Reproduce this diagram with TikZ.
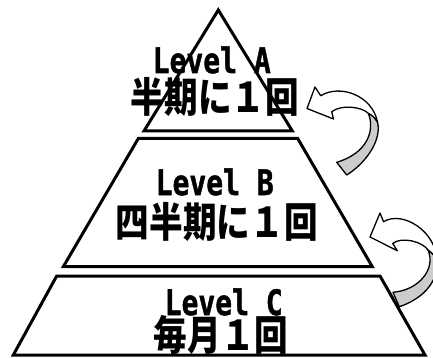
\documentclass[tikz,border=0pt]{standalone}
\usepackage{fontspec}
\usepackage{graphicx}
\newfontfamily\latfont{DejaVu Sans Mono}[BoldFeatures={FakeBold=1.5}]
\newfontfamily\jpfont{Noto Sans CJK JP}
\definecolor{arrgray}{RGB}{204,204,204}
\newcommand\latt[1]{\scalebox{0.8}[1]{#1}}
\newcommand\jpt[1]{\scalebox{0.82}[1]{#1}}
\tikzset{
  pyr/.style={line width=3pt, line join=miter},
  arr/.style={line width=1.3pt, line join=round},
  lat/.style={font=\latfont\bfseries\fontsize{35}{35}\selectfont, anchor=base west, inner sep=0pt},
  jp/.style={font=\jpfont\bfseries\fontsize{41}{41}\selectfont, anchor=base west, inner sep=0pt}
}
\begin{document}
\begin{tikzpicture}[x=1pt,y=-1pt]
\useasboundingbox (0,0) rectangle (433,358);
% pyramid
\draw[pyr] (218.3,10) -- (292.3,131) -- (144,131) -- cycle;
\draw[pyr] (138.3,138.5) -- (297.7,138.5) -- (372.3,266.7) -- (63.3,266.7) -- cycle;
\draw[pyr] (56.7,276) -- (380,276) -- (425,355) -- (13.3,355) -- cycle;
% arrow 1
\draw[arr, fill=arrgray] (368.3,113.3) .. controls (375,130) and (368,153) .. (336.7,162.3)
  -- (346.7,175) .. controls (366,163) and (382,140) .. (377.5,122)
  .. controls (375,118) and (372,115) .. cycle;
\draw[arr, fill=white] (307,108.5) -- (315,87) -- (320.7,95.7)
  .. controls (340,84) and (372,95) .. (377.5,122)
  .. controls (375,118) and (372,115) .. (368.3,113.3)
  .. controls (362,107) and (342,104) .. (331.7,111.7)
  -- (333.5,119) -- cycle;
% arrow 2
\draw[arr, fill=arrgray] (428,250) .. controls (436,268) and (420,290) .. (393,292.3)
  -- (399.3,306.7) .. controls (420,300) and (440,283) .. (436.5,259)
  .. controls (434,255) and (431,252) .. cycle;
\draw[arr, fill=white] (370,237) -- (380,213) -- (383.5,221.7)
  .. controls (403,210) and (436,232) .. (436.5,259)
  .. controls (434,255) and (431,252) .. (428,250)
  .. controls (423,242) and (402,236) .. (392.7,243.5)
  -- (397.3,250.7) -- cycle;
% texts
\node[lat] (la) at (152.5,73) {\latt{Level A}};
\node[jp] (ja) at (130.7,113) {\jpt{半期に１回}};
\node[lat] (lb) at (155.5,195) {\latt{Level B}};
\node[jp] (jb) at (115.7,237) {\jpt{四半期に１回}};
\node[lat] (lc) at (164.5,315) {\latt{Level C}};
\node[jp] (jc) at (153.7,350) {\jpt{毎月１回}};
\end{tikzpicture}
\end{document}
